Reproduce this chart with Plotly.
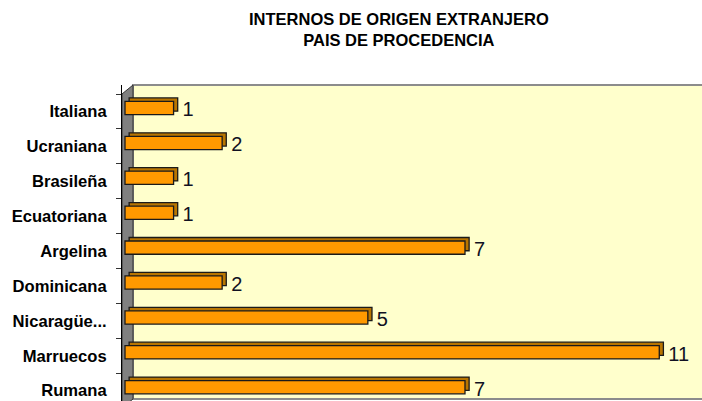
import plotly.graph_objects as go

categories = ["Italiana", "Ucraniana", "Brasileña", "Ecuatoriana", "Argelina",
              "Dominicana", "Nicaragüe...", "Marruecos", "Rumana"]
values = [1, 2, 1, 1, 7, 2, 5, 11, 7]
title_lines = ["INTERNOS DE ORIGEN EXTRANJERO", "PAIS DE PROCEDENCIA"]

W, H = 702, 401
L, T = 122, 85
DX = 0.085   # depth in x units
DY = 0.10    # depth in category units
GAP = 0.10   # label gap in x units

fig = go.Figure()
# back (depth) faces
fig.add_trace(go.Bar(
    y=categories, x=values, base=[DX] * len(values), orientation="h",
    width=0.38, offset=-0.288 - DY,
    marker=dict(color="#B87500", line=dict(color="#1a1a1a", width=1.3)),
    hoverinfo="skip", showlegend=False))
# front faces
fig.add_trace(go.Bar(
    y=categories, x=values, orientation="h",
    width=0.38, offset=-0.288,
    marker=dict(color="#FF9900", line=dict(color="#1a1a1a", width=1.3)),
    showlegend=False))
# value labels
fig.add_trace(go.Scatter(
    y=categories, x=[v + DX + GAP for v in values], mode="text",
    text=[str(v) for v in values], textposition="middle right",
    textfont=dict(family="Liberation Sans, Arial", size=20, color="#111122"),
    cliponaxis=False, showlegend=False, hoverinfo="skip"))

pw = W - L
ph = H - T
wall_x = 11 / pw
shapes = [
    # back wall (yellow)
    dict(type="rect", xref="paper", yref="paper", x0=wall_x, x1=1.02,
         y0=(H - 399) / ph, y1=1.0, fillcolor="#FFFFCC",
         line=dict(color="#8c8c8c", width=2), layer="below"),
    # side wall (gray)
    dict(type="path", xref="paper", yref="paper",
         path=f"M 0 {(H-94)/ph} L {wall_x} 1 L {wall_x} {(H-399)/ph} L 0 {(H-408)/ph} Z",
         fillcolor="#808080", line=dict(color="#333333", width=1), layer="below"),
]

fig.add_annotation(
    text="<b>" + "<br>".join(title_lines) + "</b>",
    xref="paper", yref="paper",
    x=(399 - L) / pw, xanchor="center",
    y=1 + (T - 8) / ph, yanchor="top",
    showarrow=False, align="center",
    font=dict(family="Liberation Sans, Arial", size=16.5, color="#000000"))

fig.update_layout(
    width=W, height=H,
    margin=dict(l=L, r=0, t=T, b=0, autoexpand=False),
    paper_bgcolor="white", plot_bgcolor="rgba(0,0,0,0)",
    barmode="overlay",
    shapes=shapes,
    xaxis=dict(range=[-3 / 48.57, (W - 125) / 48.57], visible=False, fixedrange=True),
    yaxis=dict(type="category", categoryorder="array", categoryarray=categories,
               range=[8.297, -0.758], showgrid=False, zeroline=False,
               showline=True, linecolor="#000000", linewidth=1,
               ticks="outside", ticklen=5, tickcolor="#333333", tickson="boundaries",
               ticklabelstandoff=11, automargin=False, fixedrange=True,
               tickprefix="<b>", ticksuffix="</b>",
               tickfont=dict(family="Liberation Sans, Arial", size=16.6, color="#000000")),
    font=dict(family="Liberation Sans, Arial"),
)

fig.write_html("out.html", config={"displayModeBar": False},
               post_script="document.body.style.margin='0';document.body.style.overflow='hidden';")
